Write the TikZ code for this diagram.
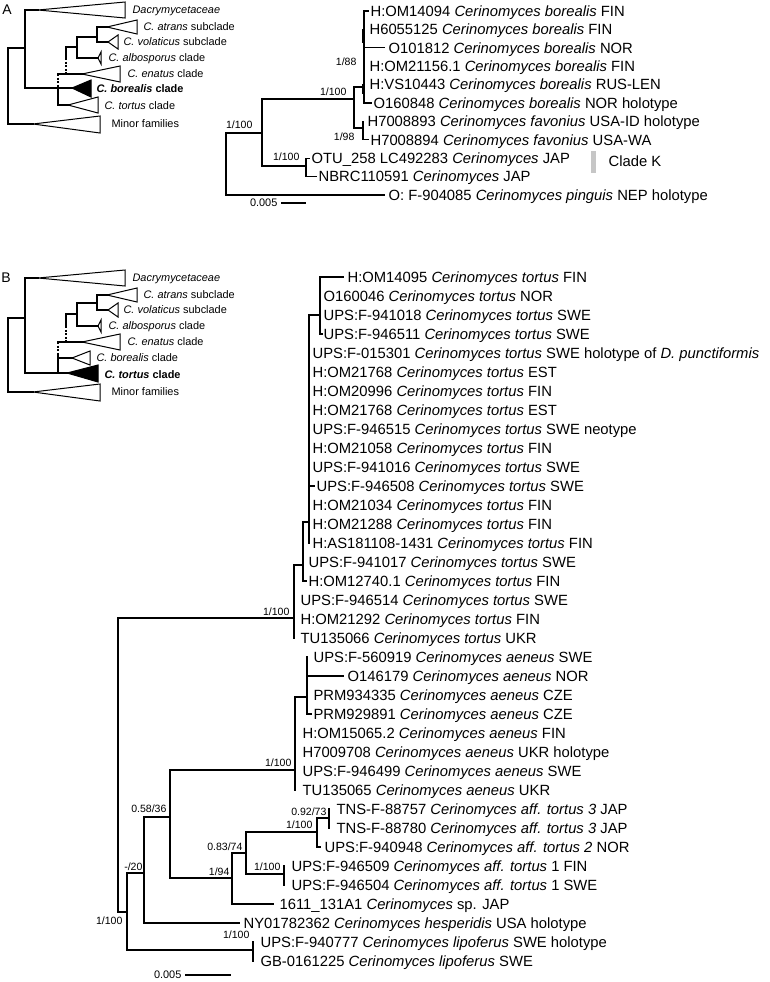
\documentclass[tikz,border=0pt]{standalone}
\usepackage{fontspec}
\setmainfont{Liberation Sans}
\newcommand{\cer}[1]{\textit{Cerinomyces #1}}
\newcommand{\tipfont}{\fontsize{11.1}{13}\selectfont}
\newcommand{\supfont}{\fontsize{7.9}{9}\selectfont}
\newcommand{\insfont}{\fontsize{8.2}{9.5}\selectfont}
\tikzset{
  tip/.style={anchor=west,inner sep=0pt,font=\tipfont,text height=7.95pt,text depth=0pt},
  sup/.style={anchor=east,inner sep=0pt,font=\supfont,text height=5.65pt,text depth=0pt},
  ins/.style={anchor=west,inner sep=0pt,font=\insfont,text height=5.87pt,text depth=0pt},
  unres/.style={dash pattern=on 1.6pt off 1.1pt,line cap=butt},
  clade/.style={draw,line width=0.75pt,line join=miter},
}
\begin{document}
\begin{tikzpicture}[x=0.75pt,y=-0.75pt,line width=0.9pt,line cap=rect]
\useasboundingbox (0,0) rectangle (770,982);
\node[inner sep=0pt,font=\fontsize{10.5}{12}\selectfont] (pA) at (7,10) {A};
\node[inner sep=0pt,font=\fontsize{10.5}{12}\selectfont] (pB) at (6,278) {B};

\draw (33,124) -| (8,48) -- (25,48);
\draw (38,10) -| (25,88) -- (72,88);
\draw (58,88) |- (68,105);
\draw[unres] (58,74) -- (58,88);
\draw (58,74) -- (82,74);
\draw[unres] (66,58) -- (66,74);
\draw (66,58) |- (77,47);
\draw (98,58) -| (77,37) -- (97,37);
\draw (107,27) -| (97,42) -- (108,42);
\draw[clade] (38,10) -- (125,2) -- (125,18) -- cycle;
\draw[clade] (107,27) -- (137,20) -- (137,34) -- cycle;
\draw[clade] (108,42) -- (118,35) -- (118,49) -- cycle;
\draw[clade] (98,58) -- (101,52) -- (101,64) -- cycle;
\draw[clade] (82,74) -- (120,66) -- (120,82) -- cycle;
\filldraw[clade,fill=black] (72,88) -- (91,80) -- (91,97) -- cycle;
\draw[clade] (68,105) -- (98,97) -- (98,113) -- cycle;
\draw[clade] (33,124) -- (100,116) -- (100,133) -- cycle;
\node[ins] (iA1) at (132,10) {\textit{Dacrymycetaceae}};
\node[ins] (iA2) at (143,27) {\textit{C. atrans} subclade};
\node[ins] (iA3) at (123,42) {\textit{C. volaticus} subclade};
\node[ins] (iA4) at (108,58) {\textit{C. albosporus} clade};
\node[ins] (iA5) at (127,74) {\textit{C. enatus} clade};
\node[ins,font=\insfont\bfseries] (iA6) at (96,89) {\textit{C. borealis} clade};
\node[ins] (iA7) at (104,106) {\textit{C. tortus} clade};
\node[ins] (iA8) at (111,124) {Minor families};

\foreach \i/\x/\lab in {
  1/370/{H:OM14094 \cer{borealis} FIN},
  2/369/{H6055125 \cer{borealis} FIN},
  3/388/{O101812 \cer{borealis} NOR},
  4/369/{H:OM21156.1 \cer{borealis} FIN},
  5/369/{H:VS10443 \cer{borealis} RUS-LEN},
  6/373/{O160848 \cer{borealis} NOR holotype},
  7/367/{H7008893 \cer{favonius} USA-ID holotype},
  8/370/{H7008894 \cer{favonius} USA-WA},
  9/311/{OTU\_258 LC492283 \textit{Cerinomyces} JAP},
  10/318/{NBRC110591 \textit{Cerinomyces} JAP},
  11/388/{O: F-904085 \cer{pinguis} NEP holotype}}
  \node[tip] (a\i) at (\x,{11+18.4*(\i-1)}) {\lab};

\coordinate (aR) at (226,133);
\coordinate (aN) at (262,133);
\coordinate (aX) at (354,99);
\coordinate (aB) at (364,87);
\coordinate (aF) at (363,128);
\coordinate (aK) at (306,166);
\draw (aR) -- (aN);
\draw (aR) |- ([xshift=-2.5pt]a11.west);
\draw (aN) |- (aX);
\draw (aN) |- (aK);
\draw (aX) |- (aB);
\draw (aX) |- (aF);
\draw (aB) |- ([xshift=-1.5pt]a1.west);
\draw (aB) |- ([xshift=-1.5pt]a6.west);
\draw (aB |- a3.west) -- ([xshift=-2.5pt]a3.west);
\draw ([xshift=-1.2pt]aB |- a2.west) -- ++(0,13);
\draw ([xshift=-1.2pt]aB |- a5.west) -- ++(0,9);
\draw (aF) -- (aF |- a7.west);
\draw (aF) |- ([xshift=-1.5pt]a8.west);
\draw (aK) |- ([xshift=-1pt]a9.west);
\draw (aK) |- ([xshift=-1pt]a10.west);
\node[sup] (sa1) at (253,125) {1/100};
\node[sup] (sa2) at (347,92) {1/100};
\node[sup] (sa3) at (357,62) {1/88};
\node[sup] (sa4) at (355,137) {1/98};
\node[sup] (sa5) at (300,157) {1/100};
\node[fill=gray!45,inner sep=0pt,minimum width=3.8pt,minimum height=16.5pt] (kbar) at (593.5,162) {};
\node[tip] (cladeK) at (608,161) {Clade K};
\node[sup,font=\fontsize{8.2}{9}\selectfont] (scA) at (278,203) {0.005};
\draw ([xshift=2.5pt]scA.east) -- ++(24,0);

\begin{scope}[shift={(0,268)}]
\draw (33,124) -| (8,50) -- (25,50);
\draw (38,10) -| (25,105) -- (67,105);
\draw (58,87) -- (58,105);
\draw (58,90) -- (72,90);
\draw[unres] (58,74) -- (58,87);
\draw (58,74) -- (82,74);
\draw[unres] (66,58) -- (66,74);
\draw (66,58) |- (77,46);
\draw (98,58) -| (77,35) -- (97,35);
\draw (107,27) -| (97,42) -- (108,42);
\draw[clade] (38,10) -- (125,2) -- (125,18) -- cycle;
\draw[clade] (107,27) -- (137,20) -- (137,34) -- cycle;
\draw[clade] (108,42) -- (118,35) -- (118,49) -- cycle;
\draw[clade] (98,58) -- (101,52) -- (101,64) -- cycle;
\draw[clade] (82,74) -- (120,66) -- (120,82) -- cycle;
\draw[clade] (72,90) -- (90,83) -- (90,97) -- cycle;
\filldraw[clade,fill=black] (67,105) -- (98,97) -- (98,114) -- cycle;
\draw[clade] (33,124) -- (100,116) -- (100,133) -- cycle;
\node[ins] (iB1) at (132,10) {\textit{Dacrymycetaceae}};
\node[ins] (iB2) at (143,27) {\textit{C. atrans} subclade};
\node[ins] (iB3) at (123,42) {\textit{C. volaticus} subclade};
\node[ins] (iB4) at (108,58) {\textit{C. albosporus} clade};
\node[ins] (iB5) at (127,74) {\textit{C. enatus} clade};
\node[ins] (iB6) at (96,90) {\textit{C. borealis} clade};
\node[ins,font=\insfont\bfseries] (iB7) at (104,107) {\textit{C. tortus} clade};
\node[ins] (iB8) at (111,124) {Minor families};
\end{scope}

\foreach \i/\x/\lab in {
  0/347/{H:OM14095 \cer{tortus} FIN},
  1/323/{O160046 \cer{tortus} NOR},
  2/323/{UPS:F-941018 \cer{tortus} SWE},
  3/323/{UPS:F-946511 \cer{tortus} SWE},
  4/312/{UPS:F-015301 \cer{tortus} SWE holotype of \textit{D. punctiformis}},
  5/312/{H:OM21768 \cer{tortus} EST},
  6/312/{H:OM20996 \cer{tortus} FIN},
  7/312/{H:OM21768 \cer{tortus} EST},
  8/312/{UPS:F-946515 \cer{tortus} SWE neotype},
  9/312/{H:OM21058 \cer{tortus} FIN},
  10/312/{UPS:F-941016 \cer{tortus} SWE},
  11/316/{UPS:F-946508 \cer{tortus} SWE},
  12/312/{H:OM21034 \cer{tortus} FIN},
  13/312/{H:OM21288 \cer{tortus} FIN},
  14/312/{H:AS181108-1431 \cer{tortus} FIN},
  15/308/{UPS:F-941017 \cer{tortus} SWE},
  16/308/{H:OM12740.1 \cer{tortus} FIN},
  17/300/{UPS:F-946514 \cer{tortus} SWE},
  18/300/{H:OM21292 \cer{tortus} FIN},
  19/300/{TU135066 \cer{tortus} UKR},
  20/313/{UPS:F-560919 \cer{aeneus} SWE},
  21/347/{O146179 \cer{aeneus} NOR},
  22/313/{PRM934335 \cer{aeneus} CZE},
  23/313/{PRM929891 \cer{aeneus} CZE},
  24/302/{H:OM15065.2 \cer{aeneus} FIN},
  25/302/{H7009708 \cer{aeneus} UKR holotype},
  26/302/{UPS:F-946499 \cer{aeneus} SWE},
  27/302/{TU135065 \cer{aeneus} UKR},
  28/336/{TNS-F-88757 \cer{aff. tortus 3} JAP},
  29/336/{TNS-F-88780 \cer{aff. tortus 3} JAP},
  30/324/{UPS:F-940948 \cer{aff. tortus 2} NOR},
  31/291/{UPS:F-946509 \cer{aff. tortus} 1 FIN},
  32/291/{UPS:F-946504 \cer{aff. tortus} 1 SWE},
  33/279/{1611\_131A1 \textit{Cerinomyces} sp. JAP},
  34/243/{NY01782362 \cer{hesperidis} USA holotype},
  35/260/{UPS:F-940777 \cer{lipoferus} SWE holotype},
  36/260/{GB-0161225 \cer{lipoferus} SWE}}
  \node[tip] (b\i) at (\x,{277+19*\i}) {\lab};

\coordinate (bR) at (118,618);
\coordinate (bT) at (294,618);
\coordinate (bTm) at (303,565);
\coordinate (bTi) at (309,522);
\coordinate (bTt) at (320,315);
\coordinate (bC) at (127,912);
\coordinate (bLp) at (253,950);
\coordinate (bH) at (144,873);
\coordinate (bM) at (170,817);
\coordinate (bAe) at (295,770);
\coordinate (bAs) at (307,697);
\coordinate (bJ) at (232,878);
\coordinate (bQ) at (246,853);
\coordinate (bS) at (317,832);
\coordinate (bN) at (329,818);
\coordinate (bU) at (284,874);
\draw (bR) -- (bT);
\draw (bR) |- (bC);
\draw (bT) |- (bTm);
\draw (bT) -- (bT |- b19.west);
\draw (bTm) |- (bTi);
\draw (bTm) |- ([xshift=-1pt]b16.west);
\draw (bTi) |- (bTt);
\draw (bTi) -- (bTi |- b14.west);
\draw (bTi |- b11.west) -- ([xshift=-1.2pt]b11.west);
\draw (bTt) |- ([xshift=-3pt]b0.west);
\draw (bTt) |- ([xshift=-0.8pt]b3.west);
\draw (bC) |- (bH);
\draw (bC) |- (bLp);
\draw (bLp) -- (bLp |- b35.west);
\draw (bLp) -- (bLp |- b36.west);
\draw (bH) |- (bM);
\draw (bH) |- ([xshift=-3pt]b34.west);
\draw (bM) |- (bAe);
\draw (bM) |- (bJ);
\draw (bAe) |- (bAs);
\draw (bAe) -- (bAe |- b27.west);
\draw (bAs) -- (bAs |- b20.west);
\draw (bAs) |- ([xshift=-1pt]b23.west);
\draw (bAs |- b21.west) -- ([xshift=-3pt]b21.west);
\draw (bJ) |- (bQ);
\draw (bJ) |- ([xshift=-4pt]b33.west);
\draw (bQ) |- (bS);
\draw (bQ) |- (bU);
\draw (bS) |- (bN);
\draw (bS) |- ([xshift=-2.5pt]b30.west);
\draw (bN) -- (bN |- b28.west);
\draw (bN) -- (bN |- b29.west);
\draw (bU) -- (bU |- b31.west);
\draw (bU) -- (bU |- b32.west);
\node[sup] (sb1) at (290,612) {1/100};
\node[sup] (sb2) at (292,763) {1/100};
\node[sup] (sb3) at (167,809) {0.58/36};
\node[sup] (sb4) at (143,867) {-/20};
\node[sup] (sb5) at (123,921) {1/100};
\node[sup] (sb6) at (250,935) {1/100};
\node[sup] (sb7) at (230,872) {1/94};
\node[sup] (sb8) at (243,847) {0.83/74};
\node[sup] (sb9) at (313,825) {1/100};
\node[sup] (sb10) at (327,812) {0.92/73};
\node[sup] (sb11) at (281,867) {1/100};
\node[sup,font=\fontsize{8.2}{9}\selectfont] (scB) at (182,975) {0.005};
\draw ([xshift=2.5pt]scB.east) -- ++(45,0);
\end{tikzpicture}
\end{document}
